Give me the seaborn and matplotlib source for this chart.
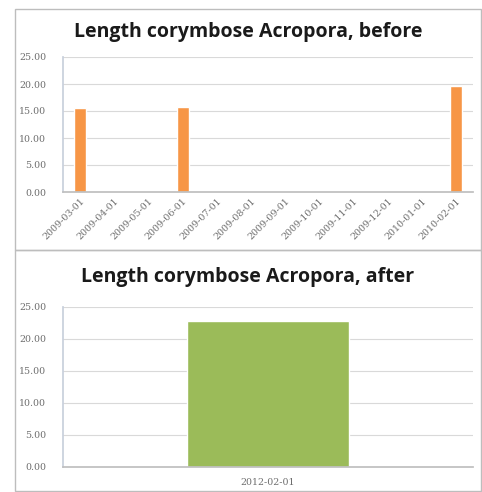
import matplotlib
matplotlib.use("Agg")
import matplotlib.pyplot as plt
import seaborn as sns
import pandas as pd
from matplotlib.patches import Rectangle

sns.set_theme(style="white")
plt.rcParams["font.family"] = ["Open Sans", "DejaVu Sans"]

before_dates = ["2009-03-01", "2009-04-01", "2009-05-01", "2009-06-01",
                "2009-07-01", "2009-08-01", "2009-09-01", "2009-10-01",
                "2009-11-01", "2009-12-01", "2010-01-01", "2010-02-01"]
before_lengths = [15.5, 0, 0, 15.7, 0, 0, 0, 0, 0, 0, 0, 19.7]

after_dates = ["2012-02-01"]
after_lengths = [22.8]

y_ticks = [0, 5, 10, 15, 20, 25]

W, H = 482, 492
fig = plt.figure(figsize=(W / 100, H / 100), dpi=100)


def px_axes(x0, y0, x1, y1):
    return fig.add_axes([x0 / W, 1 - y1 / H, (x1 - x0) / W, (y1 - y0) / H])


# chart frames
for (x0, y0, x1, y1) in [(15, 9, 481, 250), (15, 250, 481, 491)]:
    fig.patches.append(Rectangle((x0 / W, 1 - y1 / H), (x1 - x0) / W, (y1 - y0) / H,
                                 transform=fig.transFigure, fill=False,
                                 edgecolor="#bdbdbd", linewidth=1.0))

TICK_FONT = dict(fontsize=6.8, color="#6e6e6e", family="DejaVu Serif")


def style(ax, title, title_y):
    ax.set_ylim(0, 25)
    ax.set_yticks(y_ticks)
    ax.set_yticklabels([f"{v:.2f}" for v in y_ticks], **TICK_FONT)
    ax.yaxis.grid(True, color="#d9d9d9", linewidth=0.8)
    ax.set_axisbelow(True)
    for s in ["top", "right"]:
        ax.spines[s].set_visible(False)
    ax.spines["left"].set_color("#c8d0dc")
    ax.spines["bottom"].set_color("#bfbfbf")
    ax.tick_params(axis="y", length=0, pad=12)
    ax.set_xlabel("")
    ax.set_ylabel("")
    fig.text(0.5 * (15 + 481) / W, 1 - title_y / H, title, ha="center", va="center",
             fontsize=14, fontweight="bold", color="#1a1a1a")


ax1 = px_axes(63, 57, 473, 192)
df1 = pd.DataFrame({"date": before_dates, "length": before_lengths})
sns.barplot(data=df1, x="date", y="length", color="#F79646", saturation=1,
            width=0.35, ax=ax1)
ax1.set_xlim(-0.5, len(before_dates) - 0.5)
ax1.set_xticks(range(len(before_dates)))
ax1.set_xticklabels(before_dates, rotation=45, ha="right", rotation_mode="anchor",
                    **TICK_FONT)
ax1.tick_params(axis="x", length=0, pad=3)
style(ax1, "Length corymbose Acropora, before", 32)

ax2 = px_axes(63, 307, 473, 467)
df2 = pd.DataFrame({"date": after_dates, "length": after_lengths})
sns.barplot(data=df2, x="date", y="length", color="#9BBB59", saturation=1,
            width=0.395, ax=ax2)
ax2.set_xlim(-0.5, 0.5)
ax2.set_xticks([0])
ax2.set_xticklabels(after_dates, **TICK_FONT)
ax2.tick_params(axis="x", length=0, pad=8)
style(ax2, "Length corymbose Acropora, after", 277)

fig.savefig("out.png", dpi=100)
